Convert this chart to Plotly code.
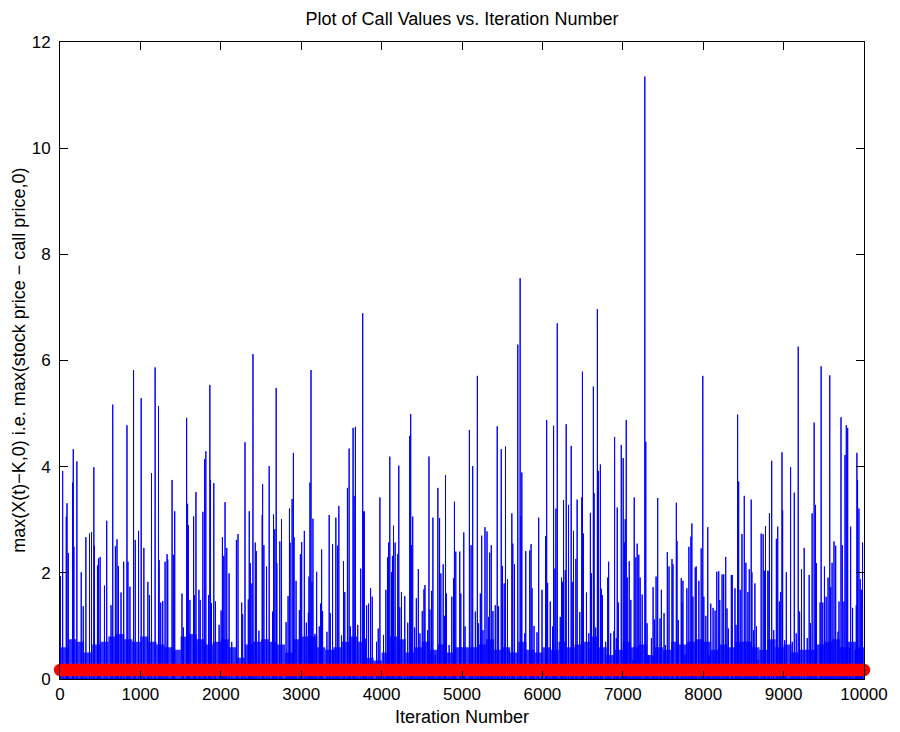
import numpy as np
import plotly.graph_objects as go

# ---------------- data ----------------
n_iter = 10000
call_price = 0.17

spike_iter = [
    4, 33, 78, 87, 103, 157, 165, 173, 210, 264, 289, 322, 367, 392, 421, 429, 466, 478, 499, 553,
    581, 635, 656, 689, 709, 726, 759, 792, 833, 845, 870, 915, 936, 977, 1010, 1043, 1093, 1113, 1138, 1183,
    1225, 1233, 1253,
    1278, 1307, 1332, 1340, 1394, 1410, 1427, 1517, 1534, 1575, 1587, 1596, 1616, 1662, 1674, 1691, 1728, 1744,
    1777, 1798, 1814, 1847, 1864, 1872, 1884, 1913, 1934, 1979, 2004, 2020, 2037, 2053, 2074, 2103, 2136, 2194,
    2214, 2260, 2272, 2301, 2342, 2354, 2367, 2387, 2400, 2429, 2441, 2474,
    2515, 2520, 2536, 2569, 2602, 2643, 2656, 2672, 2689, 2697, 2734, 2755, 2812, 2837, 2854, 2862, 2887, 2903,
    2911, 2936, 2977, 2990, 3006, 3039, 3064, 3089, 3097, 3109, 3122, 3134, 3146, 3171, 3192, 3225, 3241, 3254,
    3266, 3320, 3348, 3361, 3390, 3406, 3431, 3451, 3468, 3501, 3526, 3542, 3575, 3596, 3612, 3645, 3658, 3674,
    3703, 3740, 3765, 3777,
    3785, 3797, 3814, 3838, 3863, 3884, 3937, 3958, 3979, 4024, 4053, 4073, 4086, 4102, 4123, 4135, 4148, 4168,
    4201, 4214, 4226, 4247, 4288, 4325, 4350, 4362, 4370, 4387, 4411, 4432, 4457, 4477, 4506, 4527, 4539, 4572,
    4589, 4601, 4622, 4638, 4667, 4700, 4721, 4737, 4766, 4783, 4795, 4807, 4840, 4873, 4894, 4906, 4923, 4972,
    4985, 5022, 5038,
    5092, 5113, 5133, 5166, 5191, 5203, 5228, 5245, 5261, 5286, 5311, 5331, 5344, 5364, 5385, 5414, 5438, 5455,
    5488, 5504, 5525, 5541, 5566, 5587, 5620, 5632, 5653, 5694, 5723, 5735, 5744, 5781, 5793, 5842, 5859, 5871,
    5896, 5933, 5954, 5995, 6040, 6053, 6065, 6098, 6127, 6139, 6156, 6168, 6185, 6222, 6238, 6251, 6263, 6284,
    6296,
    6325, 6358, 6371, 6387, 6416, 6432, 6465, 6490, 6498, 6511, 6548, 6577, 6597, 6610, 6634, 6643, 6663, 6684,
    6696, 6721, 6733, 6746, 6787, 6812, 6824, 6849, 6890, 6898, 6919, 6931, 6944, 6981, 7005, 7018, 7030, 7043,
    7055, 7080, 7100, 7125, 7142, 7162, 7179, 7199, 7216, 7241, 7274, 7286, 7302, 7323, 7356, 7377, 7393, 7414,
    7434, 7463, 7480, 7513, 7529, 7554,
    7575, 7612, 7624, 7666, 7674, 7690, 7727, 7736, 7748, 7773, 7797, 7822, 7847, 7859, 7872, 7901, 7913, 7946,
    7975, 7995, 8008, 8033, 8057, 8074, 8094, 8123, 8148, 8169, 8193, 8206, 8235, 8255, 8280, 8296, 8313, 8350,
    8362, 8395, 8408, 8428, 8441, 8461, 8482, 8511, 8531, 8556, 8573, 8597, 8606, 8626, 8643, 8663, 8684, 8721,
    8746, 8762, 8775, 8804, 8819, 8824,
    8852, 8877, 8910, 8927, 8947, 8964, 8980, 8988, 9013, 9034, 9087, 9108, 9133, 9157, 9182, 9199, 9223, 9256,
    9294, 9318, 9335, 9355, 9380, 9397, 9409, 9454, 9467, 9487, 9508, 9529, 9553, 9574, 9586, 9603, 9627, 9648,
    9677, 9689, 9714, 9730, 9751, 9764, 9780, 9797, 9817, 9834, 9858, 9891, 9904, 9912, 9920, 9937, 9953, 9966,
    9982,
]

spike_val = [
    1.94, 3.92, 3.06, 3.31, 2.37, 3.70, 4.33, 2.49, 4.10, 2.01, 1.37, 2.67, 2.74, 2.77, 3.99, 2.51, 2.14, 2.27, 2.30, 1.76,
    2.98, 1.39, 5.17, 2.50, 2.63, 2.13, 1.63, 2.21, 4.78, 2.21, 1.74, 5.82, 2.62, 2.79, 5.29, 2.47, 1.83, 1.58, 3.88, 5.87,
    5.14, 2.24, 1.44,
    1.47, 2.21, 2.35, 2.25, 3.75, 2.34, 3.16, 1.61, 0.97, 4.92, 3.30, 2.90, 1.49, 3.06, 1.58, 3.52, 1.68, 1.49,
    3.15, 4.14, 4.29, 1.58, 5.54, 3.75, 1.43, 3.69, 1.46, 1.02, 1.29, 2.67, 2.32, 3.33, 2.47, 1.99, 0.70, 2.62,
    2.73, 1.44, 1.22, 4.46, 1.50, 3.16, 2.18, 1.80, 6.12, 2.57, 2.41, 0.91,
    3.09, 3.67, 2.52, 2.12, 4.01, 1.27, 3.10, 2.82, 5.48, 2.18, 2.59, 3.01, 1.07, 1.56, 3.21, 2.57, 3.39, 4.26,
    2.67, 1.85, 1.30, 2.35, 2.58, 2.79, 1.06, 1.25, 1.93, 3.70, 5.82, 1.83, 3.02, 0.85, 2.02, 0.99, 1.42, 2.44,
    1.28, 0.89, 3.09, 1.24, 2.54, 0.55, 3.04, 2.51, 3.26, 0.82, 2.22, 1.64, 3.60, 4.34, 0.99, 4.73, 3.45, 4.75,
    1.02, 2.08, 6.89, 3.15,
    3.16, 0.76, 1.39, 1.42, 1.71, 1.55, 0.70, 0.95, 3.42, 0.83, 1.68, 2.29, 2.57, 4.19, 2.01, 2.32, 2.89, 2.57,
    2.35, 4.02, 1.35, 1.64, 1.56, 1.06, 4.58, 4.99, 2.52, 3.06, 0.97, 1.52, 2.07, 0.86, 1.28, 1.69, 1.77, 0.92,
    4.19, 1.31, 1.66, 3.04, 0.46, 3.60, 3.03, 1.99, 2.16, 1.19, 3.84, 1.61, 0.64, 1.55, 1.90, 3.34, 2.40, 2.40,
    1.61, 2.76, 0.99,
    4.69, 2.52, 4.01, 1.27, 5.71, 1.05, 1.61, 2.70, 0.92, 2.86, 2.78, 1.17, 2.38, 2.52, 1.28, 1.39, 4.76, 1.37,
    4.33, 2.13, 1.80, 4.38, 1.88, 0.55, 3.12, 2.55, 2.16, 6.30, 7.55, 3.07, 3.89, 0.86, 2.41, 2.42, 2.54, 1.71,
    1.00, 0.88, 3.04, 1.68, 2.69, 4.88, 1.81, 1.46, 0.99, 4.77, 2.08, 3.21, 6.70, 1.17, 1.91, 1.83, 3.37, 2.05,
    4.80,
    3.28, 4.39, 1.83, 2.79, 2.26, 3.38, 1.26, 3.42, 5.79, 2.74, 1.63, 0.86, 3.13, 1.99, 5.51, 3.50, 0.97, 6.97,
    3.92, 4.04, 1.70, 1.58, 0.70, 1.91, 2.21, 0.86, 0.90, 4.56, 0.77, 3.23, 1.44, 4.41, 4.16, 2.57, 3.01, 4.88,
    1.91, 2.22, 1.49, 0.36, 3.42, 2.29, 2.55, 2.34, 1.91, 1.59, 11.35, 4.47, 1.05, 0.45, 0.77, 1.73, 1.12, 1.93,
    3.41, 1.14, 1.68, 1.24, 0.64, 2.39,
    2.12, 2.26, 2.16, 3.32, 2.60, 1.11, 1.90, 1.44, 1.85, 0.46, 1.71, 2.49, 2.68, 2.93, 1.55, 2.10, 2.12, 1.85,
    2.46, 5.71, 1.55, 1.19, 2.86, 0.45, 1.42, 1.34, 1.29, 2.02, 2.03, 1.49, 1.97, 1.97, 2.30, 1.33, 0.95, 1.96,
    1.96, 1.71, 1.02, 4.98, 3.72, 1.68, 2.73, 3.45, 2.19, 1.64, 2.07, 3.38, 2.01, 0.92, 1.80, 0.99, 0.36, 2.74,
    2.73, 2.04, 2.88, 2.04, 2.03, 3.12,
    4.11, 0.92, 2.64, 2.87, 1.46, 1.64, 4.27, 3.18, 0.73, 2.01, 3.99, 0.70, 3.51, 0.86, 6.26, 1.27, 2.07, 2.47,
    0.77, 1.96, 1.05, 3.12, 4.83, 3.28, 2.18, 1.44, 5.89, 1.44, 2.12, 1.55, 1.91, 5.72, 1.73, 2.19, 2.59, 2.51,
    0.89, 1.46, 4.93, 2.52, 1.46, 4.22, 4.78, 4.73, 0.59, 2.87, 1.34, 0.55, 1.39, 4.26, 3.75, 3.21, 1.88, 1.68,
    2.57,
]

# level up to which the dense forest of small payoffs fills each 100-iteration block
floor_iter = list(range(0, 10001, 100))
floor_val = [
    0.6, 0.75, 0.7, 0.5, 0.65, 0.7, 0.8, 0.85, 0.75, 0.7,
    0.8, 0.7, 0.65, 0.6, 0.55, 0.8, 0.85, 0.75, 0.65, 0.7,
    0.75, 0.6, 0.4, 0.65, 0.7, 0.75, 0.7, 0.65, 0.5, 0.75,
    0.8, 0.8, 0.6, 0.55, 0.6, 0.7, 0.8, 0.7, 0.4, 0.35,
    0.5, 0.8, 0.75, 0.5, 0.6, 0.7, 0.55, 0.65, 0.5, 0.6,
    0.6, 0.6, 0.65, 0.75, 0.55, 0.6, 0.5, 0.7, 0.55, 0.5,
    0.6, 0.55, 0.7, 0.6, 0.65, 0.7, 0.8, 0.6, 0.45, 0.55,
    0.7, 0.6, 0.65, 0.45, 0.6, 0.55, 0.7, 0.65, 0.7, 0.75,
    0.7, 0.55, 0.65, 0.6, 0.7, 0.7, 0.6, 0.55, 0.75, 0.6,
    0.65, 0.5, 0.55, 0.55, 0.65, 0.7, 0.75, 0.6, 0.7, 0.6,
    0.5,
]

x_ticks = list(range(0, 10001, 1000))
y_ticks = list(range(0, 13, 2))

assert len(spike_iter) == len(spike_val)
assert len(floor_iter) == len(floor_val)

# ---------------- build series ----------------
iters = np.arange(0, n_iter + 1)
payoff = np.zeros(n_iter + 1)
for i, v in zip(spike_iter, spike_val):
    payoff[i] = v

FONT = "Liberation Sans, Arial, Helvetica, sans-serif"

# page body has an 8px margin, so the figure is 8px smaller to fit the 900x732 window
FIG_W, FIG_H = 892, 724
M_L, M_R, M_T, M_B = 52, 32, 34, 53
PLOT_W = FIG_W - M_L - M_R
PLOT_H = FIG_H - M_T - M_B

fig = go.Figure()

fig.add_trace(go.Scatter(
    x=floor_iter, y=floor_val, mode="lines",
    line=dict(width=0, shape="hv", color="rgba(0,0,255,0)"),
    fill="tozeroy", fillcolor="rgba(0,0,255,0.8)",
    hoverinfo="skip", showlegend=False,
))

fig.add_trace(go.Scatter(
    x=iters, y=payoff, mode="lines",
    line=dict(width=1, color="rgb(0,0,255)", simplify=False),
    showlegend=False,
))

fig.add_trace(go.Scatter(
    x=[1, n_iter], y=[call_price, call_price], mode="lines+markers",
    line=dict(width=12.5, color="rgb(255,0,0)"),
    marker=dict(size=12.5, color="rgb(255,0,0)", line=dict(width=0)),
    showlegend=False, cliponaxis=False,
))

axis_common = dict(
    showline=True, linecolor="black", linewidth=1, mirror="ticks",
    ticks="inside", ticklen=8, tickcolor="black", tickwidth=1,
    showgrid=False, zeroline=False,
    tickfont=dict(family=FONT, size=17, color="black"),
)

fig.update_xaxes(range=[0, n_iter], tickvals=x_ticks, ticktext=[str(t) for t in x_ticks],
                 ticklabelstandoff=0, **axis_common)
fig.update_yaxes(range=[0, 12], tickvals=y_ticks, ticktext=[str(t) for t in y_ticks],
                 ticklabelstandoff=5, **axis_common)

fig.update_layout(
    width=FIG_W, height=FIG_H,
    margin=dict(l=M_L, r=M_R, t=M_T, b=M_B),
    plot_bgcolor="white", paper_bgcolor="white",
    title=dict(text="Plot of Call Values vs. Iteration Number",
               font=dict(family=FONT, size=18, color="black"),
               x=0.5, xref="paper", xanchor="center",
               y=1 - 11 / FIG_H, yref="container", yanchor="middle"),
    annotations=[
        dict(text="Iteration Number", x=0.5, y=-38 / PLOT_H, xref="paper", yref="paper",
             xanchor="center", yanchor="middle", showarrow=False,
             font=dict(family=FONT, size=18, color="black")),
        dict(text="max(X(t)\u2212K,0) i.e. max(stock price \u2212 call price,0)",
             x=-42 / PLOT_W, y=0.5, xref="paper", yref="paper", textangle=-90,
             xanchor="center", yanchor="middle", showarrow=False,
             font=dict(family=FONT, size=18, color="black")),
    ],
)

fig.write_html("out.html")
